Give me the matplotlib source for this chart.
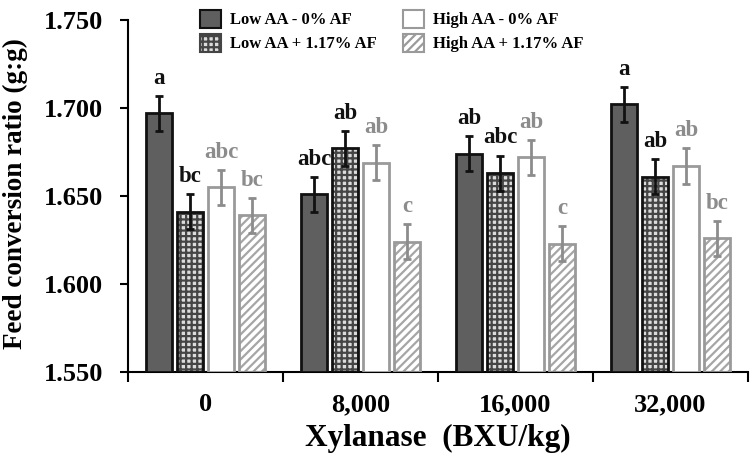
import numpy as np
import matplotlib.pyplot as plt
from matplotlib.patches import Patch

plt.rcParams['font.family'] = ['Liberation Serif', 'DejaVu Serif']
plt.rcParams['font.weight'] = 'bold'
plt.rcParams['hatch.linewidth'] = 1.6

# ---------------- 数据 ----------------
groups = ['0', '8,000', '16,000', '32,000']
series = ['Low AA - 0% AF', 'Low AA + 1.17% AF', 'High AA - 0% AF', 'High AA + 1.17% AF']

low_0 = [1.697, 1.651, 1.674, 1.702]
low_af = [1.641, 1.677, 1.663, 1.661]
high_0 = [1.655, 1.669, 1.672, 1.667]
high_af = [1.639, 1.624, 1.623, 1.626]

err_low_0 = [0.010, 0.010, 0.010, 0.010]
err_low_af = [0.010, 0.010, 0.010, 0.010]
err_high_0 = [0.010, 0.010, 0.010, 0.010]
err_high_af = [0.010, 0.010, 0.010, 0.010]

let_low_0 = ['a', 'abc', 'ab', 'a']
let_low_af = ['bc', 'ab', 'abc', 'ab']
let_high_0 = ['abc', 'ab', 'ab', 'ab']
let_high_af = ['bc', 'c', 'c', 'bc']

values = [low_0, low_af, high_0, high_af]
errors = [err_low_0, err_low_af, err_high_0, err_high_af]
letters = [let_low_0, let_low_af, let_high_0, let_high_af]

# 样式
face = ['#5f5f5f', '#dcdcdc', '#ffffff', '#ffffff']
hatch_c = [None, '#454545', None, '#a6a6a6']
hatch = [None, '+++', None, '////']
edge = ['#111111', '#111111', '#9a9a9a', '#9a9a9a']
err_c = ['#111111', '#111111', '#8c8c8c', '#8c8c8c']
txt_c = ['#111111', '#111111', '#8c8c8c', '#8c8c8c']

fig = plt.figure(figsize=(7.51, 4.62), dpi=100)
ax = fig.add_axes([0.1704, 0.1948, 0.8256, 0.7619])

x = np.arange(len(groups))
width = 0.165
offsets = [-0.3, -0.1, 0.1, 0.3]
for i in range(4):
    xi = x + offsets[i]
    h = np.array(values[i]) - 1.55
    if hatch[i]:
        ax.bar(xi, h, width, bottom=1.55, color=face[i],
               edgecolor=hatch_c[i], hatch=hatch[i], linewidth=0, zorder=2)
    ax.bar(xi, h, width, bottom=1.55,
           facecolor=face[i] if not hatch[i] else 'none',
           edgecolor=edge[i], linewidth=2, zorder=3)
    ax.errorbar(xi, values[i], yerr=errors[i], fmt='none', ecolor=err_c[i],
                elinewidth=2, capsize=3, capthick=2, zorder=4)
    for j in range(4):
        ax.text(xi[j], values[i][j] + errors[i][j] + 0.004, letters[i][j],
                ha='center', va='bottom', fontsize=16.5, fontweight='bold', color=txt_c[i])

# 图例
leg_h = []
for i in range(4):
    if hatch[i]:
        leg_h.append(Patch(facecolor=face[i], edgecolor=hatch_c[i] if i == 1 else edge[i],
                           hatch=hatch[i], linewidth=1.5))
    else:
        leg_h.append(Patch(facecolor=face[i], edgecolor=edge[i], linewidth=1.5))
fig.legend(leg_h, series, ncol=2, frameon=False,
           loc='upper left', bbox_to_anchor=(200 / 751, 1 - 10 / 462),
           borderpad=0, borderaxespad=0,
           handlelength=1.26, handleheight=1.26, columnspacing=1.55,
           labelspacing=0.32, handletextpad=0.55,
           prop={'weight': 'bold', 'size': 12})

ax.set_ylim(1.55, 1.75)
ax.set_xlim(-0.5, 3.5)
ax.set_yticks([1.55, 1.60, 1.65, 1.70, 1.75])
ax.set_yticklabels(['1.550', '1.600', '1.650', '1.700', '1.750'], fontsize=19, fontweight='bold')
ax.set_xticks(x)
ax.set_xticklabels(groups, fontsize=19, fontweight='bold')
ax.tick_params(axis='x', length=0, pad=15)
ax.set_xticks(np.arange(-0.5, 4.0, 1.0), minor=True)
ax.tick_params(axis='x', which='minor', length=7, width=1.5, direction='out')
ax.tick_params(axis='y', length=6, width=1.5, direction='out', pad=12)

for s in ['top', 'right']:
    ax.spines[s].set_visible(False)
for s in ['left', 'bottom']:
    ax.spines[s].set_linewidth(1.5)

ax.set_ylabel('Feed conversion ratio (g:g)', fontsize=19.5, fontweight='bold')
ax.yaxis.set_label_coords(-0.161, 0.507)
ax.set_xlabel('Xylanase  (BXU/kg)', fontsize=22.5, fontweight='bold', labelpad=6)

fig.savefig('out.png', dpi=100)
